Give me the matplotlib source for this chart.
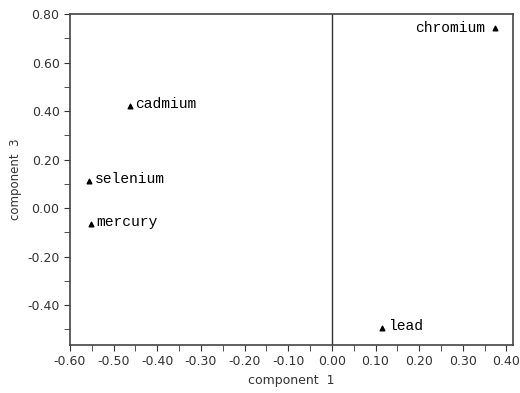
import matplotlib.pyplot as plt
from matplotlib.ticker import MultipleLocator

# loadings on component 1 / component 3
names = ['chromium', 'cadmium', 'selenium', 'mercury', 'lead']
comp1 = [0.373, -0.463, -0.557, -0.552, 0.115]
comp3 = [0.742, 0.420, 0.111, -0.066, -0.495]

fig = plt.figure(figsize=(5.2, 3.93), dpi=100)
ax = fig.add_axes([0.1346, 0.122, 0.852, 0.842])

ax.scatter(comp1, comp3, marker='^', s=11, color='black', zorder=3)
for n, x, y in zip(names, comp1, comp3):
    if n == 'chromium':
        ax.annotate(n, (x, y), xytext=(-7, 0.5), textcoords='offset points',
                    ha='right', va='center', family='Liberation Mono', fontsize=10.5)
    else:
        ax.annotate(n, (x, y), xytext=(4, 1.5), textcoords='offset points',
                    ha='left', va='center', family='Liberation Mono', fontsize=10.5)

ax.axvline(0, color='#333333', lw=1)

ax.set_xlim(-0.6, 0.415)
ax.set_ylim(-0.565, 0.80)
ax.xaxis.set_major_locator(MultipleLocator(0.1))
ax.xaxis.set_minor_locator(MultipleLocator(0.05))
ax.yaxis.set_major_locator(MultipleLocator(0.2))
ax.yaxis.set_minor_locator(MultipleLocator(0.1))
ax.xaxis.set_major_formatter(lambda v, p: f'{v:.2f}')
ax.yaxis.set_major_formatter(lambda v, p: f'{v:.2f}')
ax.tick_params(which='both', direction='out', color='#333333', labelsize=9, labelcolor='#333333')
ax.tick_params(which='major', length=4)
ax.tick_params(which='minor', length=4)
for s in ax.spines.values():
    s.set_color('#444444')
    s.set_linewidth(1.2)

ax.set_xlabel('component  1', fontsize=9, color='#333333')
ax.set_ylabel('component  3', fontsize=8.5, color='#333333')

fig.savefig('out.png', dpi=100)
